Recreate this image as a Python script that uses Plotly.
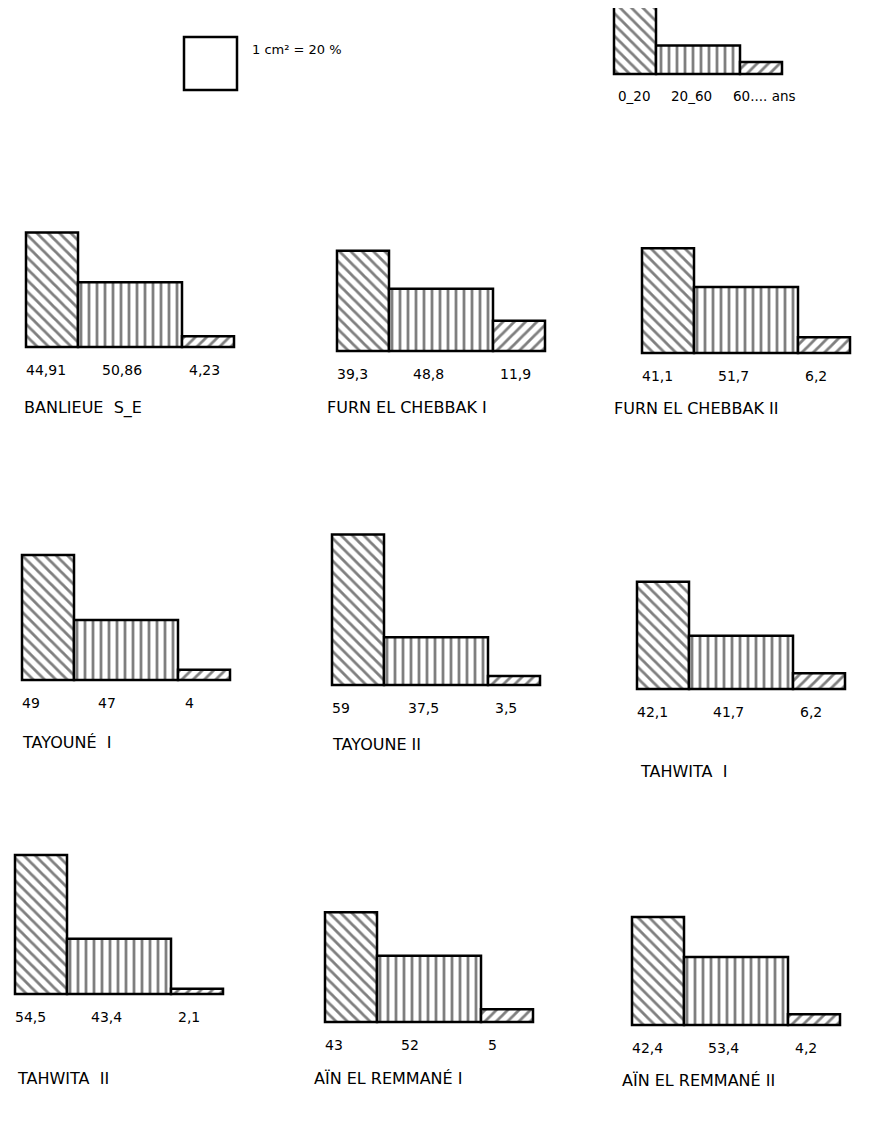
import plotly.graph_objects as go

# ---------------- data ----------------
sites = ["BANLIEUE  S_E", "FURN EL CHEBBAK I", "FURN EL CHEBBAK II",
         "TAYOUNÉ  I", "TAYOUNE II", "TAHWITA  I",
         "TAHWITA  II", "AÏN EL REMMANÉ I", "AÏN EL REMMANÉ II"]
age_groups = ["0_20", "20_60", "60.... ans"]
age_start = [0, 20, 60]          # years
age_width = [20, 40, 20]         # years
pct_0_20 = [44.91, 39.3, 41.1, 49, 59, 42.1, 54.5, 43, 42.4]
pct_20_60 = [50.86, 48.8, 51.7, 47, 37.5, 41.7, 43.4, 52, 53.4]
pct_60_plus = [4.23, 11.9, 6.2, 4, 3.5, 6.2, 2.1, 5, 4.2]
key_density = [3.0, 0.95, 0.4]   # schematic key histogram (% per year)
scale_text = "1 cm² = 20 %"

# ---------------- layout constants ----------------
W, H = 894, 1122
PX_YEAR = 2.6
PX_UNIT = 51.0
panel_left = [26, 337, 642, 22, 332, 637, 15, 325, 632]
panel_base = [347, 351, 353, 680, 685, 689, 994, 1022, 1025]
title_left = [22, 325, 612, 20, 330, 638, 15, 312, 620]
title_y = [408, 407, 408, 742, 744, 771, 1078, 1078, 1080]
label_dx_years = [-0.8, 8.5, 2]
patterns = ["\\", "|", "/"]
FONT = "DejaVu Sans"


def px(x):
    return x / W


def py(y):
    return 1 - y / H


def fmt(v):
    s = str(int(v)) if float(v).is_integer() else str(v)
    return s.replace(".", ",")


fig = go.Figure()
layout_axes = {}
annotations = []

bar_marker = dict(
    color="white",
    line=dict(color="black", width=2.5),
    pattern=dict(shape=patterns, fgcolor="black", bgcolor="white",
                 size=8, solidity=0.35),
)

# ---------------- key histogram (axis 1) ----------------
k_left, k_base, k_top, k_pxyear, k_pxunit = 614, 74, 8, 2.1, 30.0
pad = 5
fig.add_trace(go.Bar(
    x=[s + w / 2 for s, w in zip(age_start, age_width)],
    y=key_density, width=age_width, marker=bar_marker,
    xaxis="x", yaxis="y", showlegend=False, hoverinfo="skip"))
layout_axes["xaxis"] = dict(
    domain=[px(k_left - pad), px(k_left + 80 * k_pxyear + pad)],
    range=[-pad / k_pxyear, 80 + pad / k_pxyear], visible=False, anchor="y",
    fixedrange=True)
layout_axes["yaxis"] = dict(
    domain=[py(k_base + pad), py(k_top)],
    range=[-pad / k_pxunit, (k_base - k_top) / k_pxunit], visible=False, anchor="x",
    fixedrange=True)
for s, lab, dx in zip(age_start, age_groups, [1.0, 6, -4.5]):
    annotations.append(dict(
        x=s + dx, y=0, xref="x", yref="y", yshift=-22, text=lab,
        showarrow=False, xanchor="left", yanchor="middle",
        font=dict(family=FONT, size=13.5, color="black")))

# scale square + text
square = dict(type="rect", xref="paper", yref="paper",
              x0=px(184), x1=px(237), y0=py(90), y1=py(37),
              line=dict(color="black", width=2.5), fillcolor="white")
annotations.append(dict(
    x=px(250), y=py(49), xref="paper", yref="paper", text=scale_text,
    showarrow=False, xanchor="left", yanchor="middle",
    font=dict(family=FONT, size=13, color="black")))

# ---------------- 9 panels ----------------
for i, name in enumerate(sites):
    k = i + 2
    pcts = [pct_0_20[i], pct_20_60[i], pct_60_plus[i]]
    dens = [p / w for p, w in zip(pcts, age_width)]
    x0, b = panel_left[i], panel_base[i]
    top_px = 175
    fig.add_trace(go.Bar(
        x=[s + w / 2 for s, w in zip(age_start, age_width)],
        y=dens, width=age_width, marker=bar_marker,
        xaxis=f"x{k}", yaxis=f"y{k}", showlegend=False, hoverinfo="skip"))
    layout_axes[f"xaxis{k}"] = dict(
        domain=[px(x0 - pad), px(x0 + 80 * PX_YEAR + pad)],
        range=[-pad / PX_YEAR, 80 + pad / PX_YEAR], visible=False,
        anchor=f"y{k}", fixedrange=True)
    layout_axes[f"yaxis{k}"] = dict(
        domain=[py(b + pad), py(b - top_px)],
        range=[-pad / PX_UNIT, top_px / PX_UNIT], visible=False,
        anchor=f"x{k}", fixedrange=True)
    for s, p, dx in zip(age_start, pcts, label_dx_years):
        annotations.append(dict(
            x=s + dx, y=0, xref=f"x{k}", yref=f"y{k}", yshift=-23,
            text=fmt(p), showarrow=False, xanchor="left", yanchor="middle",
            font=dict(family=FONT, size=14, color="black")))
    annotations.append(dict(
        x=px(title_left[i]), y=py(title_y[i]), xref="paper", yref="paper",
        text=name, showarrow=False, xanchor="left", yanchor="middle",
        font=dict(family=FONT, size=16, color="black")))

fig.update_layout(
    width=W, height=H,
    margin=dict(l=0, r=0, t=0, b=0),
    paper_bgcolor="white", plot_bgcolor="rgba(0,0,0,0)",
    bargap=0, showlegend=False, hovermode=False,
    shapes=[square], annotations=annotations,
    **layout_axes,
)

fig.write_html("out.html",
               config={"displayModeBar": False, "staticPlot": True},
               post_script="document.body.style.margin='0';"
                           "document.body.style.padding='0';")
